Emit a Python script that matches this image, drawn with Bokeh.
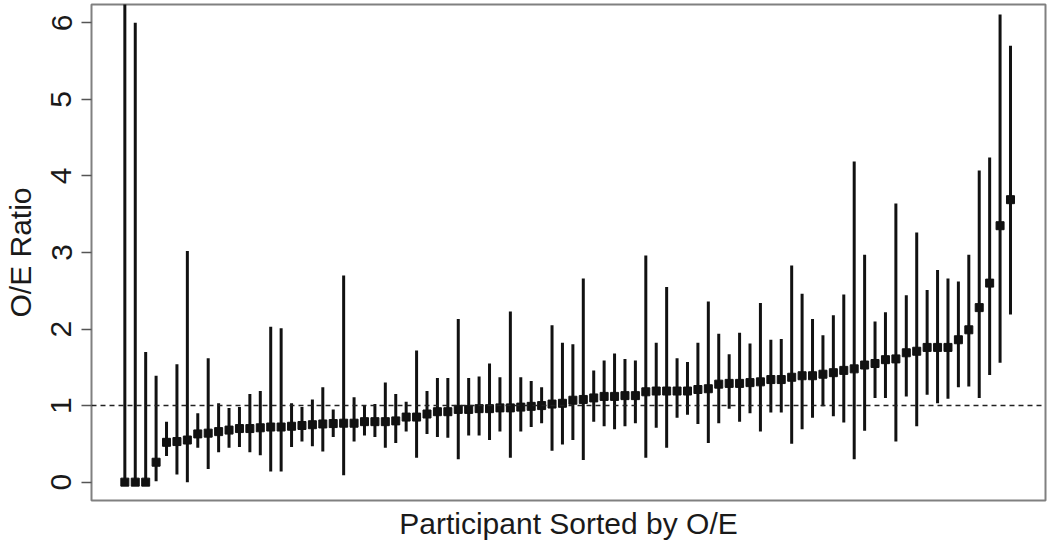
from bokeh.plotting import figure
from bokeh.models import Range1d, Span, FixedTicker, ColumnDataSource
from bokeh.embed import file_html
from bokeh.resources import INLINE

participant = list(range(1, 87))

oe = [0.00, 0.00, 0.00, 0.26, 0.52, 0.53, 0.55, 0.63, 0.64, 0.66,
      0.68, 0.70, 0.70, 0.71, 0.72, 0.72, 0.73, 0.74, 0.75, 0.76,
      0.765, 0.77, 0.77, 0.79, 0.79, 0.79, 0.80, 0.85, 0.85, 0.89,
      0.92, 0.92, 0.95, 0.95, 0.96, 0.96, 0.97, 0.97, 0.98, 0.99,
      1.00, 1.02, 1.03, 1.07, 1.08, 1.10, 1.12, 1.12, 1.13, 1.13,
      1.18, 1.19, 1.19, 1.19, 1.19, 1.21, 1.22, 1.28, 1.29, 1.29,
      1.30, 1.31, 1.34, 1.34, 1.37, 1.39, 1.39, 1.41, 1.43, 1.46,
      1.48, 1.53, 1.55, 1.60, 1.61, 1.69, 1.71, 1.76, 1.76, 1.76,
      1.86, 1.99, 2.28, 2.60, 3.35, 3.69]

lower = [0.00, 0.00, 0.00, 0.01, 0.34, 0.10, 0.00, 0.45, 0.17, 0.39,
         0.45, 0.46, 0.39, 0.35, 0.14, 0.14, 0.46, 0.53, 0.47, 0.40,
         0.59, 0.09, 0.53, 0.61, 0.59, 0.45, 0.51, 0.66, 0.32, 0.63,
         0.59, 0.58, 0.30, 0.61, 0.61, 0.55, 0.66, 0.32, 0.66, 0.72,
         0.77, 0.41, 0.49, 0.55, 0.29, 0.79, 0.73, 0.69, 0.73, 0.77,
         0.32, 0.71, 0.45, 0.84, 0.88, 0.76, 0.51, 0.77, 0.96, 0.79,
         0.90, 0.66, 0.91, 0.91, 0.50, 0.69, 0.84, 0.99, 0.86, 0.78,
         0.30, 0.67, 1.10, 1.10, 0.53, 1.12, 0.73, 1.14, 1.03, 1.09,
         1.24, 1.25, 1.10, 1.40, 1.56, 2.19]

upper = [6.80, 6.00, 1.70, 1.39, 0.79, 1.54, 3.02, 0.90, 1.62, 1.03,
         0.97, 0.98, 1.15, 1.19, 2.03, 2.01, 1.03, 0.98, 1.08, 1.24,
         0.95, 2.70, 1.11, 1.00, 1.02, 1.30, 1.15, 1.05, 1.72, 1.19,
         1.36, 1.36, 2.13, 1.36, 1.38, 1.55, 1.37, 2.23, 1.37, 1.32,
         1.24, 2.05, 1.82, 1.80, 2.66, 1.46, 1.59, 1.68, 1.61, 1.59,
         2.96, 1.82, 2.55, 1.62, 1.57, 1.82, 2.36, 1.94, 1.67, 1.95,
         1.81, 2.34, 1.86, 1.87, 2.83, 2.46, 2.13, 1.92, 2.18, 2.45,
         4.19, 2.97, 2.10, 2.22, 3.64, 2.44, 3.26, 2.51, 2.77, 2.66,
         2.62, 2.97, 4.07, 4.24, 6.11, 5.70]

y_ticks = [0, 1, 2, 3, 4, 5, 6]

src = ColumnDataSource(dict(x=participant, oe=oe, lo=lower, hi=upper))

p = figure(width=1050, height=546, output_backend="svg", toolbar_location=None,
           x_range=Range1d(-2.2, 89.36), y_range=Range1d(-0.24, 6.24),
           min_border_left=91, min_border_right=5, min_border_top=4,
           min_border_bottom=46)

p.background_fill_color = "white"
p.border_fill_color = "white"
p.outline_line_color = "#808080"
p.outline_line_width = 2
p.xgrid.visible = False
p.ygrid.visible = False

font = "Liberation Sans"

# y axis
ya = p.yaxis[0]
ya.ticker = FixedTicker(ticks=y_ticks)
ya.axis_label = "O/E Ratio"
ya.axis_label_text_font = font
ya.axis_label_text_font_style = "normal"
ya.axis_label_text_font_size = "30px"
ya.axis_label_text_color = "#1a1a1a"
ya.axis_label_standoff = 12
ya.major_label_text_font = font
ya.major_label_text_font_size = "30px"
ya.major_label_text_color = "#1a1a1a"
ya.major_label_orientation = "vertical"
ya.major_label_standoff = 10
ya.major_tick_out = 10
ya.major_tick_in = 0
ya.major_tick_line_color = "#555555"
ya.major_tick_line_width = 1.5
ya.minor_tick_line_color = None
ya.axis_line_color = None

# x axis
xa = p.xaxis[0]
xa.ticker = FixedTicker(ticks=[])
xa.axis_label = "Participant Sorted by O/E"
xa.axis_label_text_font = font
xa.axis_label_text_font_style = "normal"
xa.axis_label_text_font_size = "30px"
xa.axis_label_text_color = "#1a1a1a"
xa.axis_label_standoff = 6
xa.major_label_standoff = 0
xa.major_tick_out = 0
xa.major_tick_in = 0
xa.minor_tick_line_color = None
xa.axis_line_color = None

ref = Span(location=1, dimension="width", line_dash="5 4", line_width=1.5,
           line_color="#222222")
p.add_layout(ref)

p.segment(x0="x", y0="lo", x1="x", y1="hi", source=src, line_width=3,
          line_color="#111111")
p.scatter(x="x", y="oe", source=src, marker="square", size=8,
          fill_color="#111111", line_color="#111111")

open("out.html", "w").write(file_html(p, INLINE))
